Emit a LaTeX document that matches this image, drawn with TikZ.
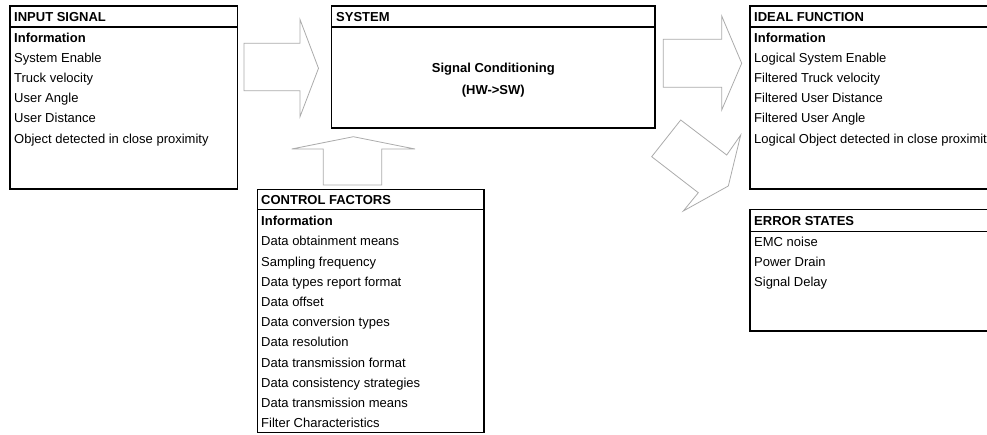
\documentclass[tikz,border=0pt]{standalone}
\usepackage{fontspec}
\setmainfont{Liberation Sans}
\begin{document}
\begin{tikzpicture}[x=1pt,y=-1pt,
  box/.style={draw=black,line width=1.3pt},
  blockarrow/.style={draw=black!33,line width=0.8pt,line join=miter},
  txt/.style={anchor=base west,inner sep=0pt,font=\fontsize{13}{15}\selectfont},
  hdr/.style={txt,font=\fontsize{13}{15}\selectfont\bfseries},
  ctr/.style={anchor=base,inner sep=0pt,font=\fontsize{13}{15}\selectfont\bfseries}]
\useasboundingbox (0,0) rectangle (987,434);
\clip (0,0) rectangle (987,434);

% ---------- INPUT SIGNAL ----------
\draw[box] (10,6) rectangle (237.5,189);
\draw[box] (10,27) -- (237.5,27);
\node[hdr] (inh) at (14,21.8) {INPUT SIGNAL};
\node[hdr] (ininfo) at (14,42.8) {Information};
\foreach \t [count=\i] in {System Enable,Truck velocity,User Angle,User Distance,Object detected in close proximity}
  \node[txt] (in\i) at (14,{62.8+(\i-1)*20.05}) {\t};

% ---------- SYSTEM ----------
\draw[box] (331.7,6) rectangle (655,128);
\draw[box] (331.7,27) -- (655,27);
\node[hdr] (sysh) at (336,21.8) {SYSTEM};
\node[ctr] (sys1) at (493.3,72.8) {Signal Conditioning};
\node[ctr] (sys2) at (493.3,94.5) {(HW->SW)};

% ---------- IDEAL FUNCTION ----------
\draw[box] (750,6) rectangle (1000,189);
\draw[box] (750,27) -- (1000,27);
\node[hdr] (idh) at (754,21.8) {IDEAL FUNCTION};
\node[hdr] (idinfo) at (754,42.8) {Information};
\foreach \t [count=\i] in {Logical System Enable,Filtered Truck velocity,Filtered User Distance,Filtered User Angle,Logical Object detected in close proximity}
  \node[txt] (id\i) at (754,{62.8+(\i-1)*20.05}) {\t};

% ---------- ERROR STATES ----------
\draw[box] (750,209.5) rectangle (1000,331);
\draw[box] (750,231.5) -- (1000,231.5);
\node[hdr] (erh) at (754,225.2) {ERROR STATES};
\foreach \t [count=\i] in {EMC noise,Power Drain,Signal Delay}
  \node[txt] (er\i) at (754,{246.3+(\i-1)*20.1}) {\t};

% ---------- CONTROL FACTORS ----------
\draw[box] (257.3,189.7) rectangle (484,432.7);
\draw[box] (257.3,209.8) -- (484,209.8);
\node[hdr] (cfh) at (261,204.2) {CONTROL FACTORS};
\node[hdr] (cfinfo) at (261,225.2) {Information};
\foreach \t [count=\i] in {Data obtainment means,Sampling frequency,Data types report format,Data offset,Data conversion types,Data resolution,Data transmission format,Data consistency strategies,Data transmission means,Filter Characteristics}
  \node[txt] (cf\i) at (261,{245.8+(\i-1)*20.2}) {\t};

% ---------- block arrows ----------
% input -> system
\draw[blockarrow] (244,43.3) -- (300,43.3) -- (300,19.5) -- (318.5,68.3) -- (300,116.7) -- (300,90.7) -- (244,90.7) -- cycle;
% control -> system (upwards)
\draw[blockarrow] (323.3,185) -- (323.3,149) -- (291.7,149) -- (353.3,136.7) -- (415,149) -- (381.7,149) -- (381.7,185) -- cycle;
% system -> ideal function
\draw[blockarrow] (663.3,39.3) -- (721.7,39.3) -- (721.7,16) -- (741.7,63.3) -- (721.7,110) -- (721.7,87.3) -- (663.3,87.3) -- cycle;
% system -> error states (diagonal)
\draw[blockarrow] (680.7,120) -- (726.7,155) -- (740.7,135) -- (728.3,186) -- (683.3,211) -- (698.3,192.7) -- (651.7,156.7) -- cycle;
\end{tikzpicture}
\end{document}
